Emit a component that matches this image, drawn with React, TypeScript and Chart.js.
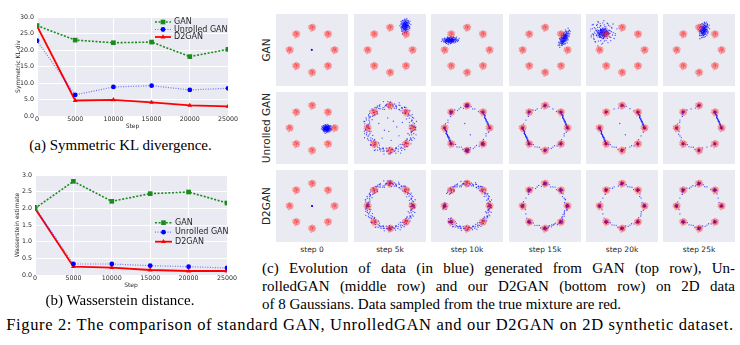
import React, { useEffect, useRef } from "react";
import { Chart, registerables } from "chart.js";
Chart.register(...registerables);

// ---------- line chart data ----------
const STEPS = [0, 5000, 10000, 15000, 20000, 25000];
const SERIES = ["GAN", "Unrolled GAN", "D2GAN"];
const KL_GAN = [27.4, 23.0, 22.2, 22.4, 18.0, 20.2];
const KL_UNROLLED = [22.8, 6.4, 8.8, 9.2, 7.9, 8.4];
const KL_D2GAN = [27.3, 4.7, 4.9, 4.1, 3.2, 2.9];
const W_GAN = [2.0, 2.81, 2.21, 2.44, 2.49, 2.16];
const W_UNROLLED = [2.03, 0.33, 0.33, 0.28, 0.25, 0.21];
const W_D2GAN = [2.0, 0.25, 0.22, 0.15, 0.12, 0.12];

// ---------- scatter grid data ----------
const ROW_LABELS = ["GAN", "Unrolled GAN", "D2GAN"];
const STEP_LABELS = ["step 0", "step 5k", "step 10k", "step 15k", "step 20k", "step 25k"];
const MODE_ANGLES = [0, 45, 90, 135, 180, 225, 270, 315];
const MODE_RADIUS = 2;
const JITTER = [
  [0.12, -0.35], [-0.48, 0.22], [0.85, 0.1], [-0.15, 0.95], [0.33, 0.41], [-0.72, -0.58], [0.05, 0.02], [1.1, -0.62],
  [-0.25, -0.12], [0.6, 0.78], [-1.05, 0.35], [0.22, -0.88], [-0.38, 0.55], [0.95, -0.25], [-0.6, -0.95], [0.42, 0.08],
  [-0.08, 0.3], [0.18, 1.25], [-1.3, -0.1], [0.7, -0.45], [-0.2, -0.5], [0.28, 0.62], [-0.85, 0.8], [1.35, 0.4],
  [0.0, -1.2], [-0.45, -0.3], [0.55, -1.05], [-0.12, 0.7], [0.88, 0.55], [-0.65, 0.05], [0.38, -0.2], [-0.3, 1.1],
  [1.0, 0.9], [-0.95, -0.45], [0.15, -0.6], [-0.55, 0.4], [0.65, 0.25], [-0.1, -0.85], [0.3, 0.15], [-1.15, 0.65],
  [0.8, -0.85], [-0.35, -1.4], [0.48, 1.0], [-0.75, -0.2], [0.1, 0.48], [1.2, -0.1], [-0.4, 0.85], [0.25, -0.05],
];
const RING = [
  [3, 0.2], [8, -0.6], [14, 0.9], [18, -0.1], [25, 0.4], [29, -0.9], [33, 0.1], [41, 0.7], [44, -0.3], [50, -0.7],
  [55, 0.5], [58, 0.0], [64, -0.5], [70, 0.8], [73, -0.2], [79, 0.3], [86, -0.8], [90, 0.6], [95, -0.4], [99, 0.1],
  [104, 0.9], [111, -0.6], [115, 0.2], [120, -0.1], [126, 0.5], [131, -0.9], [134, 0.3], [140, 0.7], [146, -0.4], [150, 0.0],
  [155, -0.7], [161, 0.4], [166, 0.8], [170, -0.2], [176, 0.1], [181, -0.5], [187, 0.6], [190, -0.8], [196, 0.3], [201, 0.9],
  [207, -0.3], [212, 0.0], [218, -0.6], [222, 0.5], [227, 0.2], [233, -0.9], [236, 0.7], [242, -0.1], [248, 0.4], [251, -0.4],
  [257, 0.8], [263, 0.1], [268, -0.7], [272, 0.3], [278, -0.2], [283, 0.6], [287, -0.5], [293, 0.9], [298, 0.0], [302, -0.8],
  [308, 0.2], [313, 0.5], [317, -0.3], [323, 0.7], [328, -0.6], [332, 0.1], [338, 0.4], [343, -0.9], [347, 0.3], [352, -0.1],
  [356, 0.6], [359, -0.4],
];
const EDGE_T = [
  0.5, 0.25, 0.75, 0.12, 0.62, 0.38, 0.88, 0.06, 0.44, 0.81, 0.31, 0.69, 0.19, 0.56, 0.94, 0.03, 0.47, 0.72,
  0.28, 0.85, 0.15, 0.6, 0.35, 0.9, 0.09, 0.53, 0.78, 0.22, 0.65, 0.41, 0.97, 0.17, 0.58, 0.33, 0.83, 0.02,
];
const INTERIOR = [
  [0.3, 0.6], [-0.5, -0.2], [0.8, -0.7], [-0.2, 0.9], [0.1, -1.1], [-1.0, 0.4], [0.6, 0.1], [-0.7, -0.9], [1.1, 0.5], [-0.1, -0.3],
];
const FEW_INTERIOR = [[-0.2, 0.4], [0.3, -0.6]];

// panel specs: blobs [cx, cy, sx, sy, rotDeg, n]; ring [r0, amp, passes, gaps]; modes [mode, scale, n]; edges [i, j, n, spread]
const GAN_ROW = [
  { blobs: [[-0.03, 0.02, 0.04, 0.04, 0, 8]] },
  { blobs: [[1.35, 2.15, 0.36, 0.52, -8, 144]] },
  { blobs: [[-1.5, 0.87, 0.6, 0.26, 5, 144]] },
  { blobs: [[1.72, 1.05, 0.7, 0.3, 62, 144]] },
  { blobs: [[-1.7, 1.5, 0.42, 0.34, 10, 96], [-1.8, 1.55, 1.0, 0.85, 0, 96]] },
  { blobs: [[0.42, 1.78, 0.36, 0.6, -15, 144]] },
];
const UNROLLED_ROW = [
  { blobs: [[1.3, -0.05, 0.36, 0.3, 0, 144]] },
  { ring: [2.05, 0.42, 3, []], extra: INTERIOR },
  {
    modes: [[2, 0.13, 30], [6, 0.15, 30], [7, 0.12, 24], [3, 0.12, 20], [1, 0.1, 12], [0, 0.09, 8], [4, 0.09, 10], [5, 0.1, 12]],
    edges: [[4, 5, 36, 0.05], [1, 0, 30, 0.05], [2, 3, 6, 0.1], [3, 4, 5, 0.1], [5, 6, 6, 0.1], [6, 7, 6, 0.1], [7, 0, 5, 0.1], [1, 2, 5, 0.1]],
    extra: FEW_INTERIOR,
  },
  {
    modes: [[0, 0.1, 14], [1, 0.1, 14], [2, 0.1, 16], [3, 0.1, 14], [4, 0.1, 12], [5, 0.1, 14], [6, 0.1, 16], [7, 0.1, 16]],
    edges: [[4, 5, 36, 0.04], [1, 0, 36, 0.04], [2, 3, 5, 0.08], [3, 4, 4, 0.08], [5, 6, 6, 0.08], [6, 7, 7, 0.08], [7, 0, 5, 0.08], [1, 2, 4, 0.08]],
  },
  {
    modes: [[0, 0.1, 14], [1, 0.1, 14], [2, 0.1, 14], [3, 0.1, 14], [4, 0.1, 12], [5, 0.1, 14], [6, 0.1, 14], [7, 0.1, 14]],
    edges: [[4, 5, 36, 0.04], [1, 0, 36, 0.04], [5, 6, 6, 0.08], [6, 7, 5, 0.08], [2, 1, 4, 0.08], [2, 3, 2, 0.08], [7, 0, 3, 0.08]],
    extra: FEW_INTERIOR,
  },
  {
    modes: [[0, 0.1, 12], [1, 0.1, 14], [2, 0.1, 14], [3, 0.1, 14], [4, 0.1, 12], [5, 0.1, 14], [6, 0.1, 14], [7, 0.1, 12]],
    edges: [[1, 0, 36, 0.04], [2, 3, 4, 0.08], [3, 4, 5, 0.08], [4, 5, 6, 0.08], [5, 6, 6, 0.08], [6, 7, 3, 0.08]],
  },
];
const D2GAN_ROW = [
  { blobs: [[0.0, 0.0, 0.04, 0.04, 0, 8]] },
  { ring: [2.0, 0.34, 3, []], modes: [[0, 0.12, 8], [2, 0.12, 8], [4, 0.12, 10], [6, 0.12, 8]] },
  { ring: [2.0, 0.28, 3, [[150, 172], [190, 212]]], modes: [[4, 0.1, 22], [5, 0.1, 18], [0, 0.12, 8]] },
  {
    modes: [[0, 0.12, 20], [1, 0.12, 20], [2, 0.12, 22], [3, 0.12, 20], [4, 0.12, 20], [5, 0.12, 20], [6, 0.12, 22], [7, 0.12, 20]],
    edges: [[0, 7, 14, 0.1], [7, 6, 14, 0.1], [6, 5, 8, 0.1], [0, 1, 10, 0.1], [1, 2, 8, 0.1], [2, 3, 8, 0.1], [3, 4, 4, 0.1], [4, 5, 3, 0.1]],
  },
  {
    modes: [[0, 0.11, 22], [1, 0.11, 22], [2, 0.11, 22], [3, 0.11, 22], [4, 0.11, 22], [5, 0.11, 22], [6, 0.11, 22], [7, 0.11, 22]],
    edges: [[5, 6, 8, 0.07], [6, 7, 8, 0.07], [7, 0, 6, 0.07], [0, 1, 5, 0.07], [1, 2, 6, 0.07], [2, 3, 5, 0.07], [3, 4, 3, 0.07], [4, 5, 3, 0.07]],
  },
  {
    modes: [[0, 0.11, 22], [1, 0.11, 22], [2, 0.11, 22], [3, 0.11, 22], [4, 0.11, 22], [5, 0.11, 22], [6, 0.11, 22], [7, 0.11, 22]],
    edges: [[5, 6, 8, 0.07], [6, 7, 6, 0.07], [1, 2, 5, 0.07], [2, 3, 6, 0.07], [3, 4, 4, 0.07], [0, 1, 3, 0.07], [4, 5, 2, 0.07]],
  },
];
const ROWS = [GAN_ROW, UNROLLED_ROW, D2GAN_ROW];

// ---------- layout ----------
const COL_LEFT = [276, 354, 431, 509, 586, 663];
const ROW_TOP = [14, 92, 170];
const PANEL = 72;
const RANGE = 2.85;

const MODES = MODE_ANGLES.map((a) => [MODE_RADIUS * Math.cos((a * Math.PI) / 180), MODE_RADIUS * Math.sin((a * Math.PI) / 180)]);

type P = { x: number; y: number };

function addBlob(out: P[], b: number[]) {
  const [cx, cy, sx, sy, rot, n] = b;
  const c = Math.cos((rot * Math.PI) / 180), s = Math.sin((rot * Math.PI) / 180);
  for (let k = 0; k < n; k++) {
    const [jx, jy] = JITTER[k % JITTER.length];
    const pass = Math.floor(k / JITTER.length) % 3;
    const ux = pass === 0 ? jx : pass === 1 ? -jy * 0.85 : jy * 0.55;
    const uy = pass === 0 ? jy : pass === 1 ? jx * 0.85 : -jx * 0.55;
    const px = ux * sx, py = uy * sy;
    out.push({ x: cx + px * c - py * s, y: cy + px * s + py * c });
  }
}

function addRing(out: P[], spec: any[]) {
  const [r0, amp, passes, gaps] = spec;
  for (let p = 0; p < passes; p++) {
    RING.forEach(([a, d], k) => {
      const ang = a + p * 2.3;
      if (gaps.some(([g0, g1]: number[]) => ang >= g0 && ang <= g1)) return;
      const J = JITTER[k % JITTER.length];
      const dd = p === 0 ? d : p === 1 ? -0.8 * d + 0.15 * J[0] : 0.6 * J[1];
      const r = r0 + amp * dd;
      out.push({ x: r * Math.cos((ang * Math.PI) / 180), y: r * Math.sin((ang * Math.PI) / 180) });
    });
  }
}

function addEdge(out: P[], e: number[]) {
  const [i, j, n, spread] = e;
  const [x0, y0] = MODES[i], [x1, y1] = MODES[j];
  const dx = x1 - x0, dy = y1 - y0;
  const L = Math.hypot(dx, dy);
  const nx = -dy / L, ny = dx / L;
  for (let k = 0; k < n; k++) {
    const t = EDGE_T[k % EDGE_T.length];
    const [jx] = JITTER[(k * 7) % JITTER.length];
    out.push({ x: x0 + dx * t + nx * jx * spread, y: y0 + dy * t + ny * jx * spread });
  }
}

function bluePoints(spec: any): P[] {
  const out: P[] = [];
  (spec.blobs || []).forEach((b: number[]) => addBlob(out, b));
  if (spec.ring) addRing(out, spec.ring);
  (spec.modes || []).forEach(([m, sc, n]: number[]) => addBlob(out, [MODES[m][0], MODES[m][1], sc, sc, m * 20, n]));
  (spec.edges || []).forEach((e: number[]) => addEdge(out, e));
  (spec.extra || []).forEach(([x, y]: number[]) => out.push({ x, y }));
  return out;
}

function redPoints(): P[] {
  const out: P[] = [];
  MODES.forEach(([mx, my], m) => {
    for (let k = 0; k < JITTER.length; k++) {
      const [jx, jy] = JITTER[(k + m * 5) % JITTER.length];
      out.push({ x: mx + 0.24 * jx, y: my + 0.24 * jy });
    }
  });
  return out;
}

function ScatterPanel({ left, top, spec }: { left: number; top: number; spec: any }) {
  const ref = useRef<HTMLCanvasElement>(null);
  useEffect(() => {
    const chart = new Chart(ref.current!, {
      type: "scatter",
      data: {
        datasets: [
          { data: redPoints(), backgroundColor: "rgba(255,20,20,0.32)", pointRadius: 0.75, borderWidth: 0 },
          { data: bluePoints(spec), backgroundColor: "rgba(0,0,255,0.7)", pointRadius: 0.65, borderWidth: 0 },
        ],
      },
      options: {
        responsive: false,
        animation: false,
        events: [],
        layout: { padding: 0 },
        plugins: { legend: { display: false }, tooltip: { enabled: false } },
        scales: {
          x: { type: "linear", display: false, min: -RANGE, max: RANGE },
          y: { type: "linear", display: false, min: -RANGE, max: RANGE },
        },
      },
    } as any);
    return () => chart.destroy();
  }, []);
  return (
    <canvas
      ref={ref}
      width={PANEL}
      height={PANEL}
      style={{ position: "absolute", left, top, width: PANEL, height: PANEL, background: "#EAEAF2" }}
    />
  );
}

// ---------- line charts ----------
const STYLES = [
  { color: "#1a8c1a", marker: "rect", borderWidth: 1.6, borderDash: [2, 1.6], pointRadius: 3.3 },
  { color: "rgba(40,40,255,0.6)", markerColor: "#0000ff", marker: "circle", borderWidth: 1.2, borderDash: [1, 1.5], pointRadius: 2.4 },
  { color: "#ff0000", marker: "triangle", borderWidth: 1.8, borderDash: [], pointRadius: 2.8 },
];

const bgPlugin = {
  id: "bgArea",
  beforeDraw(chart: any) {
    const { ctx, chartArea } = chart;
    ctx.save();
    ctx.fillStyle = "#EAEAF2";
    ctx.fillRect(chartArea.left, chartArea.top, chartArea.width, chartArea.height);
    ctx.restore();
  },
};

function drawMarker(ctx: CanvasRenderingContext2D, kind: string, x: number, y: number, r: number) {
  ctx.beginPath();
  if (kind === "rect") {
    const s = r * Math.SQRT1_2;
    ctx.rect(x - s, y - s, 2 * s, 2 * s);
  } else if (kind === "circle") {
    ctx.arc(x, y, r, 0, Math.PI * 2);
  } else {
    const h = r * 1.5;
    ctx.moveTo(x, y - r);
    ctx.lineTo(x + h * 0.577, y + r * 0.5);
    ctx.lineTo(x - h * 0.577, y + r * 0.5);
    ctx.closePath();
  }
  ctx.fill();
}

const legendPlugin = {
  id: "insideLegend",
  afterDraw(chart: any, _args: any, opts: any) {
    const ctx = chart.ctx as CanvasRenderingContext2D;
    ctx.save();
    ctx.font = "8px 'DejaVu Sans'";
    ctx.textBaseline = "middle";
    ctx.textAlign = "left";
    SERIES.forEach((name, i) => {
      const st: any = STYLES[i];
      const y = opts.y + i * opts.dy;
      ctx.strokeStyle = st.color;
      ctx.lineWidth = st.borderWidth;
      ctx.setLineDash(st.borderDash);
      ctx.beginPath();
      ctx.moveTo(opts.x, y);
      ctx.lineTo(opts.x + opts.len, y);
      ctx.stroke();
      ctx.setLineDash([]);
      ctx.fillStyle = st.markerColor || st.color;
      drawMarker(ctx, st.marker, opts.x + opts.len / 2, y, st.pointRadius);
      ctx.fillStyle = "#262626";
      ctx.fillText(name, opts.textX, y);
    });
    ctx.restore();
  },
};

function LineChart(props: any) {
  const { left, top, width, height, series, yMax, yStep, yTitle, pad, axisW, axisH, legend, titlePad } = props;
  const ref = useRef<HTMLCanvasElement>(null);
  useEffect(() => {
    const tickFont = { family: "'DejaVu Sans'", size: 6.3 };
    const chart = new Chart(ref.current!, {
      type: "line",
      data: {
        datasets: series.map((vals: number[], i: number) => {
          const st: any = STYLES[i];
          return {
            label: SERIES[i],
            data: STEPS.map((x, k) => ({ x, y: vals[k] })),
            borderColor: st.color,
            backgroundColor: st.markerColor || st.color,
            pointBackgroundColor: st.markerColor || st.color,
            borderWidth: st.borderWidth,
            borderDash: st.borderDash,
            pointStyle: st.marker,
            pointRadius: st.pointRadius,
            pointBorderWidth: 0,
            tension: 0,
          };
        }),
      },
      options: {
        responsive: false,
        animation: false,
        events: [],
        layout: { padding: pad },
        plugins: { legend: { display: false }, tooltip: { enabled: false }, insideLegend: legend },
        scales: {
          x: {
            type: "linear",
            min: 0,
            max: 25000,
            afterFit: (s: any) => { s.height = axisH; },
            grid: { color: "#ffffff", lineWidth: 1, drawTicks: false },
            border: { display: false },
            ticks: {
              stepSize: 5000,
              autoSkip: false,
              maxRotation: 0,
              padding: 0,
              font: tickFont,
              color: "#262626",
              callback: (v: any) => String(v),
            },
            title: { display: true, text: "Step", font: { family: "'DejaVu Sans'", size: 6 }, color: "#262626", padding: 0 },
          },
          y: {
            type: "linear",
            min: 0,
            max: yMax,
            afterFit: (s: any) => { s.width = axisW; },
            grid: { color: "#ffffff", lineWidth: 1, drawTicks: false },
            border: { display: false },
            ticks: {
              stepSize: yStep,
              autoSkip: false,
              padding: 3,
              font: tickFont,
              color: "#262626",
              callback: (v: any) => Number(v).toFixed(1),
            },
            title: { display: true, text: yTitle, font: { family: "'DejaVu Sans'", size: 6 }, color: "#262626", padding: { top: titlePad, bottom: 0 } },
          },
        },
      },
      plugins: [bgPlugin, legendPlugin],
    } as any);
    return () => chart.destroy();
  }, []);
  return <canvas ref={ref} width={width} height={height} style={{ position: "absolute", left, top, width, height }} />;
}

const serif = "'Liberation Serif', 'Times New Roman', serif";
const sans = "'DejaVu Sans', sans-serif";

function Text({ x, y, w, size, children, align = "center", family = serif, last, spacing = 0 }: any) {
  const lh = size * 1.2;
  return (
    <div
      style={{
        position: "absolute",
        left: x,
        top: y - lh / 2,
        width: w,
        fontFamily: family,
        fontSize: size,
        lineHeight: `${lh}px`,
        letterSpacing: spacing,
        textAlign: align,
        textAlignLast: last || align,
        whiteSpace: align === "justify" ? "normal" : "nowrap",
        color: "#000",
      }}
    >
      {children}
    </div>
  );
}

export default function App() {
  return (
    <div style={{ position: "absolute", left: 0, top: 0, width: 740, height: 345, background: "#fff", overflow: "hidden" }}>
      <LineChart
        left={0}
        top={0}
        width={240}
        height={134}
        series={[KL_GAN, KL_UNROLLED, KL_D2GAN]}
        yMax={30}
        yStep={5}
        yTitle="Symmetric KL-div"
        pad={{ left: 13, top: 17, right: 12, bottom: 4 }}
        axisW={24}
        axisH={14}
        titlePad={1.4}
        legend={{ x: 155, len: 16, textX: 174, y: 22, dy: 7.5 }}
      />
      <LineChart
        left={0}
        top={158}
        width={240}
        height={135}
        series={[W_GAN, W_UNROLLED, W_D2GAN]}
        yMax={3}
        yStep={0.5}
        yTitle="Wasserstein estimate"
        pad={{ left: 11, top: 17, right: 13, bottom: 4 }}
        axisW={24}
        axisH={14}
        titlePad={3}
        legend={{ x: 155, len: 17, textX: 175, y: 222.7 - 158, dy: 9.5 }}
      />
      <Text x={0} y={145} w={241} size={15}>(a) Symmetric KL divergence.</Text>
      <Text x={0} y={300} w={240} size={15}>(b) Wasserstein distance.</Text>

      {ROWS.map((row, r) =>
        row.map((spec, c) => <ScatterPanel key={`${r}-${c}`} left={COL_LEFT[c]} top={ROW_TOP[r]} spec={spec} />)
      )}
      {ROW_LABELS.map((lab, r) => (
        <div
          key={lab}
          style={{
            position: "absolute",
            left: 266 - 50,
            top: ROW_TOP[r] + PANEL / 2 - 6,
            width: 100,
            height: 12,
            lineHeight: "12px",
            textAlign: "center",
            fontFamily: sans,
            fontSize: 10.5,
            color: "#262626",
            transform: "rotate(-90deg)",
            transformOrigin: "50% 50%",
            whiteSpace: "nowrap",
          }}
        >
          {lab}
        </div>
      ))}
      {STEP_LABELS.map((lab, c) => (
        <div
          key={lab}
          style={{
            position: "absolute",
            left: COL_LEFT[c],
            top: 250 - 5,
            width: PANEL,
            lineHeight: "10px",
            textAlign: "center",
            fontFamily: sans,
            fontSize: 7.5,
            color: "#262626",
            whiteSpace: "nowrap",
          }}
        >
          {lab}
        </div>
      ))}

      <Text x={262} y={268} w={473} size={15} align="justify" last="justify">
        (c) Evolution of data (in blue) generated from GAN (top row), Un-
      </Text>
      <Text x={262} y={286} w={473} size={15} align="justify" last="justify">
        rolledGAN (middle row) and our D2GAN (bottom row) on 2D data
      </Text>
      <Text x={262} y={304} w={473} size={15} align="left">
        of 8 Gaussians. Data sampled from the true mixture are red.
      </Text>
      <Text x={0} y={325} w={740} size={16.5} spacing={0.65}>
        Figure 2: The comparison of standard GAN, UnrolledGAN and our D2GAN on 2D synthetic dataset.
      </Text>
    </div>
  );
}
